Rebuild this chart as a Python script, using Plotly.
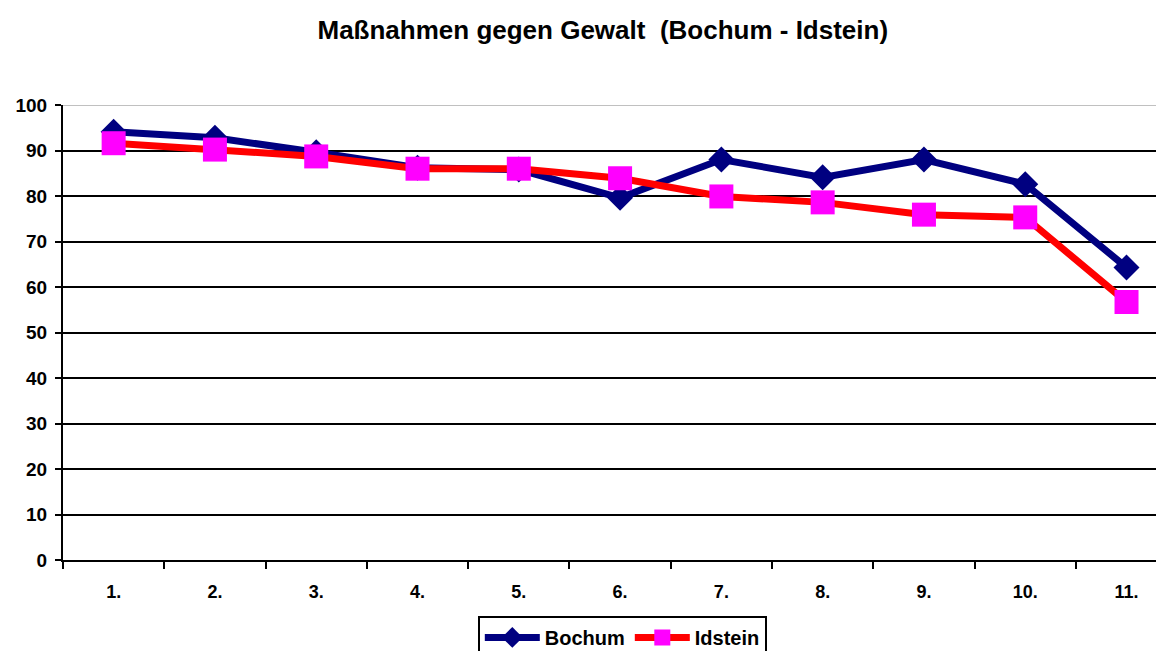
import plotly.graph_objects as go

categories = ["1.", "2.", "3.", "4.", "5.", "6.", "7.", "8.", "9.", "10.", "11."]
bochum = [94.1, 92.8, 89.6, 86.2, 85.8, 79.6, 88.0, 84.1, 88.0, 82.6, 64.3]
idstein = [91.6, 90.2, 88.7, 86.0, 86.0, 83.9, 79.9, 78.6, 75.9, 75.3, 56.7]

x = list(range(len(categories)))

fig = go.Figure()
fig.add_trace(go.Scatter(
    x=x, y=bochum, name="Bochum", mode="lines+markers",
    line=dict(color="#000080", width=7),
    marker=dict(symbol="diamond", size=20, color="#000080"),
))
fig.add_trace(go.Scatter(
    x=x, y=idstein, name="Idstein", mode="lines+markers",
    line=dict(color="#FF0000", width=7),
    marker=dict(symbol="square", size=24, color="#FF00FF"),
))

# top border of the plot area is grey in the original
fig.add_shape(type="line", xref="paper", x0=0, x1=1, yref="y", y0=100, y1=100,
              line=dict(color="#c0c0c0", width=2), layer="below")

# the page body adds an 8px offset, so margins are shifted to compensate
fig.update_layout(
    width=1164, height=651,
    margin=dict(l=55, r=8, t=97, b=99, autoexpand=False),
    paper_bgcolor="white", plot_bgcolor="white",
    font=dict(family="Arial", size=18, color="black", weight="bold"),
    title=dict(text="Maßnahmen gegen Gewalt  (Bochum - Idstein)",
               x=0.511, xanchor="center", y=0.966, yanchor="middle",
               font=dict(size=26, weight="bold")),
    showlegend=True,
    legend=dict(orientation="h", x=0.508, xanchor="center", y=-0.123, yanchor="top",
                bordercolor="black", borderwidth=2, font=dict(size=20, weight="bold"),
                itemwidth=55, tracegroupgap=0),
    xaxis=dict(
        range=[-0.5, 10.37], tickmode="array", tickvals=x, ticktext=categories,
        ticks="", showgrid=False, zeroline=False,
        showline=True, linecolor="black", linewidth=2,
        minor=dict(tickmode="array", tickvals=[i + 0.5 for i in range(-1, 11)],
                   ticks="outside", ticklen=7, tickwidth=2, tickcolor="black", showgrid=False),
        ticklabelstandoff=14,
    ),
    yaxis=dict(
        range=[0, 100], tickmode="array", tickvals=list(range(0, 101, 10)),
        ticks="outside", ticklen=6, tickwidth=2, tickcolor="black",
        showgrid=True, gridcolor="black", gridwidth=2,
        zeroline=False, showline=True, linecolor="black", linewidth=2,
        tickfont=dict(size=19), ticklabelstandoff=4,
    ),
)

fig.write_html("out.html")
